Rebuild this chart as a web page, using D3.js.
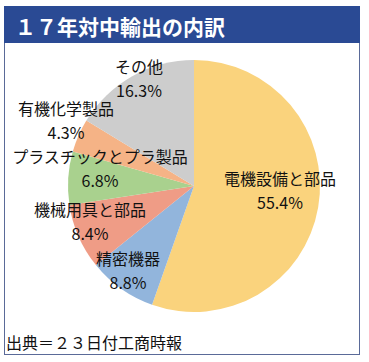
<!DOCTYPE html>
<html>
<head>
<meta charset="utf-8">
<script src="https://cdn.jsdelivr.net/npm/d3@7"></script>
<style>
  body { margin: 0; background: #fff; }
  text { font-family: "Noto Sans CJK JP", "Noto Sans", sans-serif; }
</style>
</head>
<body>
<div id="chart"></div>
<script>
// 17年対中輸出の内訳
var categories = ["電機設備と部品", "精密機器", "機械用具と部品", "プラスチックとプラ製品", "有機化学製品", "その他"];
var values = [55.4, 8.8, 8.4, 6.8, 4.3, 16.3];
var colors = ["#fad37d", "#92b5dc", "#ef9c86", "#a9d18e", "#f5b386", "#cdcdcd"];
var title = "１７年対中輸出の内訳";
var source = "出典＝２３日付工商時報";

// label offsets from pie centre (hand-placed in the original)
var labelOffsets = [[86, 4], [-66, 84], [-104, 35], [-94, -18], [-128, -66], [-55, -108]];

var width = 369, height = 362;
var cx = 194, cy = 186, radius = 126;
var lineGap = 24;

var svg = d3.select("#chart").append("svg")
    .attr("width", width)
    .attr("height", height);

// frame
svg.append("rect")
    .attr("x", 4.5).attr("y", 6.5)
    .attr("width", 355).attr("height", 348)
    .style("fill", "none")
    .style("stroke", "#5a6a98")
    .style("stroke-width", 1);

// title bar
svg.append("rect")
    .attr("x", 4).attr("y", 6)
    .attr("width", 356).attr("height", 37)
    .style("fill", "#2a4a94");

svg.append("text")
    .attr("x", 15).attr("y", 26)
    .attr("dominant-baseline", "central")
    .style("font-size", "21px")
    .style("font-weight", "bold")
    .style("fill", "#fff")
    .text(title);

var pie = d3.pie().sort(null).value(function(d) { return d; });
var arc = d3.arc().innerRadius(0).outerRadius(radius);

var g = svg.append("g")
    .attr("transform", "translate(" + cx + "," + cy + ")");

g.selectAll("path")
  .data(pie(values))
  .enter()
  .append("path")
    .attr("d", arc)
    .style("fill", function(d, i) { return colors[i]; });

var labels = g.selectAll("g.label")
  .data(pie(values))
  .enter()
  .append("g")
    .attr("class", "label")
    .attr("transform", function(d, i) {
      return "translate(" + labelOffsets[i][0] + "," + labelOffsets[i][1] + ")";
    });

labels.append("text")
    .attr("text-anchor", "middle")
    .attr("dominant-baseline", "central")
    .attr("y", -lineGap / 2)
    .style("font-size", "16px")
    .style("fill", "#111")
    .text(function(d, i) { return categories[i]; });

labels.append("text")
    .attr("text-anchor", "middle")
    .attr("dominant-baseline", "central")
    .attr("y", lineGap / 2)
    .style("font-size", "16px")
    .style("fill", "#111")
    .text(function(d) { return d3.format(".1f")(d.data) + "%"; });

svg.append("text")
    .attr("x", 6).attr("y", 342)
    .attr("dominant-baseline", "central")
    .style("font-size", "16px")
    .style("fill", "#111")
    .text(source);
</script>
</body>
</html>
